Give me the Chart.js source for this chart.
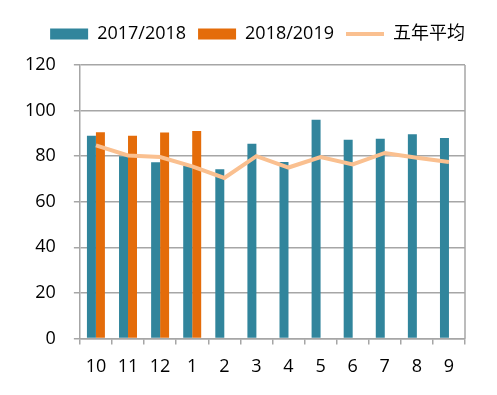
<!DOCTYPE html>
<html>
<head>
<meta charset="utf-8">
<script src="https://cdn.jsdelivr.net/npm/chart.js@4.4.0/dist/chart.umd.min.js"></script>
<style>
html,body{margin:0;padding:0;background:#fff;}
#wrap{width:497px;height:395px;position:relative;}
</style>
</head>
<body>
<div id="wrap"><canvas id="c"></canvas></div>
<script>
const categories = ['10','11','12','1','2','3','4','5','6','7','8','9'];
const series2017 = [89, 80, 77.3, 75.8, 74.2, 85.4, 77.4, 96, 87.2, 87.6, 89.6, 88];
const series2018 = [90.5, 89, 90.4, 91, null, null, null, null, null, null, null, null];
const fiveYearAvg = [84.7, 80.3, 79.6, 75.5, 70.4, 80, 75, 79.6, 76.4, 81.4, 79.3, 77.4];
const yTicks = [0, 20, 40, 60, 80, 100, 120];

const FONT = '"Open Sans", "Noto Sans CJK SC", sans-serif';
const gridColor = '#a6a6a6';

const borderPlugin = {
  id: 'rightBorder',
  afterDatasetsDraw(chart) {
    const {ctx, chartArea} = chart;
    ctx.save();
    ctx.strokeStyle = gridColor;
    ctx.lineWidth = 1.5;
    ctx.beginPath();
    ctx.moveTo(chartArea.right, chartArea.top);
    ctx.lineTo(chartArea.right, chartArea.bottom);
    ctx.stroke();
    ctx.restore();
  }
};
const legendGap = {
  id: 'legendGap',
  beforeInit(chart) {
    const origFit = chart.legend.fit;
    chart.legend.fit = function () {
      origFit.bind(this)();
      this.height += 12;
    };
  },
  afterLayout(chart) {
    chart.legend.left += 12;
    chart.legend.right += 12;
  }
};

new Chart(document.getElementById('c'), {
  type: 'bar',
  data: {
    labels: categories,
    datasets: [
      { label: '2017/2018', data: series2017, backgroundColor: '#31859C', borderWidth: 0, pointStyle: 'rect', order: 1 },
      { label: '2018/2019', data: series2018, backgroundColor: '#E46C0A', borderWidth: 0, pointStyle: 'rect', order: 1 },
      { label: '五年平均', type: 'line', data: fiveYearAvg, borderColor: '#FAC090', backgroundColor: '#FAC090',
        borderWidth: 4, pointRadius: 0, pointStyle: 'line', tension: 0, order: 0 }
    ]
  },
  options: {
    responsive: true,
    maintainAspectRatio: false,
    animation: false,
    layout: { padding: { left: 7, right: 32, top: 13, bottom: 5 } },
    datasets: { bar: { categoryPercentage: 0.56, barPercentage: 1 } },
    plugins: {
      tooltip: { enabled: false },
      legend: {
        position: 'top',
        align: 'end',
        labels: {
          usePointStyle: true,
          pointStyleWidth: 38,
          boxWidth: 38,
          boxHeight: 11,
          padding: 12,
          color: '#000',
          font: { family: FONT, size: 18 },
          sort: (a, b) => a.datasetIndex - b.datasetIndex
        }
      }
    },
    scales: {
      x: {
        grid: { display: true, drawOnChartArea: false, drawTicks: true, tickLength: 6, color: gridColor, lineWidth: 1.5, offset: true },
        border: { display: true, color: gridColor, width: 1.5 },
        ticks: { color: '#000', font: { family: FONT, size: 18 }, padding: 12, maxRotation: 0 }
      },
      y: {
        min: 0, max: 120,
        afterBuildTicks: (axis) => { axis.ticks = yTicks.map(v => ({ value: v })); },
        grid: { color: gridColor, lineWidth: 1.5, tickLength: 6 },
        border: { display: true, color: gridColor, width: 1.5 },
        ticks: { color: '#000', font: { family: FONT, size: 18 }, padding: 18 }
      }
    }
  },
  plugins: [borderPlugin, legendGap]
});
</script>
</body>
</html>
